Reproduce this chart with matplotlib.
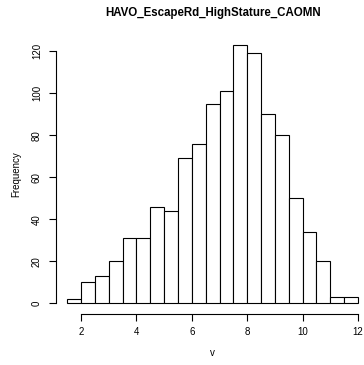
import matplotlib
matplotlib.use("Agg")
import matplotlib.pyplot as plt
import numpy as np

# Data
bin_edges = [1.5, 2.0, 2.5, 3.0, 3.5, 4.0, 4.5, 5.0, 5.5, 6.0, 6.5, 7.0,
             7.5, 8.0, 8.5, 9.0, 9.5, 10.0, 10.5, 11.0, 11.5, 12.0]
counts = [2, 10, 13, 20, 31, 31, 46, 44, 69, 76, 95, 101,
          123, 119, 90, 80, 50, 34, 20, 3, 3]
x_ticks = [2, 4, 6, 8, 10, 12]
y_ticks = [0, 20, 40, 60, 80, 100, 120]
title = "HAVO_EscapeRd_HighStature_CAOMN"
xlabel = "v"
ylabel = "Frequency"

plt.rcParams['font.family'] = ['Liberation Sans', 'DejaVu Sans']

W, H = 364, 365
fig = plt.figure(figsize=(W / 100, H / 100), dpi=100)
left_px, right_px = 55.6, 369.6
top_px, bottom_px = 34.7, 313.6
ax = fig.add_axes([left_px / W, (H - bottom_px) / H,
                   (right_px - left_px) / W, (bottom_px - top_px) / H])

edges = np.array(bin_edges)
widths = np.diff(edges)
ax.bar(edges[:-1], counts, width=widths, align='edge',
       facecolor='white', edgecolor='black', linewidth=0.8)

xr = edges[-1] - edges[0]
ax.set_xlim(edges[0] - 0.04 * xr, edges[-1] + 0.04 * xr)
ymax = max(counts)
ax.set_ylim(-0.04 * ymax, ymax * 1.04)

for s in ['top', 'right']:
    ax.spines[s].set_visible(False)
ax.spines['bottom'].set_bounds(x_ticks[0], x_ticks[-1])
ax.spines['left'].set_bounds(y_ticks[0], y_ticks[-1])
for s in ['bottom', 'left']:
    ax.spines[s].set_linewidth(0.8)
    ax.spines[s].set_color('black')

ax.set_xticks(x_ticks)
ax.set_yticks(y_ticks)
ax.set_xticklabels([str(t) for t in x_ticks])
ax.set_yticklabels([str(t) for t in y_ticks], rotation=90, va='center')
ax.tick_params(direction='out', length=4.8, width=0.8, labelsize=7.0,
               colors='black')
ax.tick_params(axis='x', pad=5.0)
ax.tick_params(axis='y', pad=5.0)

fig.text(212.6 / W, 1 - 13 / H, title, ha='center', va='center',
         fontsize=8.3, fontweight='bold')
fig.text(212.6 / W, 1 - 353 / H, xlabel, ha='center', va='center',
         fontsize=7.0)
fig.text(16.5 / W, 1 - 174 / H, ylabel, ha='center', va='center',
         fontsize=7.0, rotation=90)

fig.savefig("out.png", dpi=100, facecolor='white')
